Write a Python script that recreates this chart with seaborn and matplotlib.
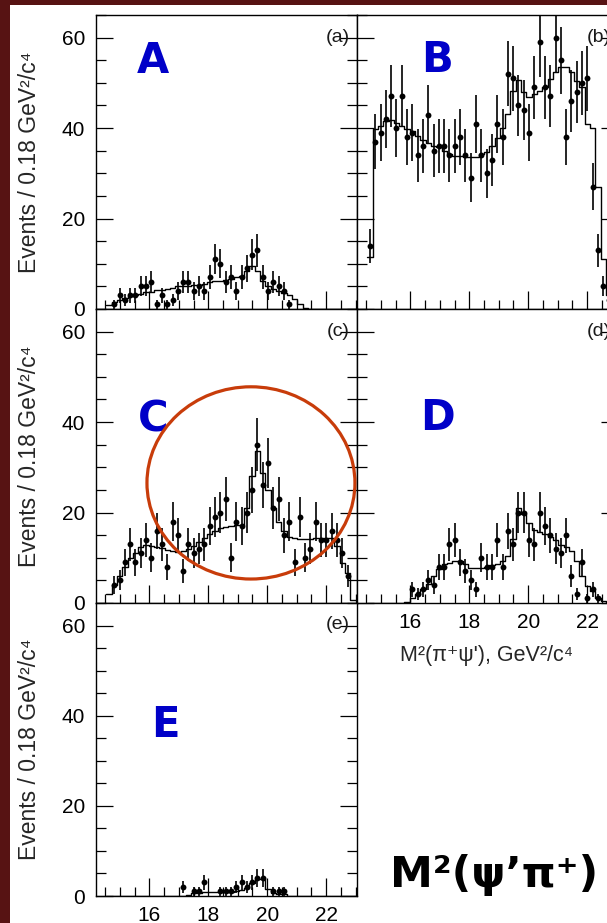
"""Recreate the five-panel M^2(pi+ psi') projection figure."""

import numpy as np
import pandas as pd
import matplotlib
matplotlib.use('Agg')
import matplotlib.pyplot as plt
from matplotlib.patches import Ellipse, Rectangle
from matplotlib.ticker import MultipleLocator, FixedLocator
import seaborn as sns

nan = np.nan

# binning: 0.18 GeV^2/c^4 bins, 47 of them
BIN_WIDTH = 0.18
FIRST_EDGE = 14.54
N_BINS = 47

# counts per bin (nan = no point drawn)
A_COUNTS = [nan, 1, 3, 2, 3, 3, 5, 5, 6, 1, 3, 1, 2, 4, 6, 6, 4, 5, 4, 7,
            11, 10, 6, 7, 4, 7, 9, 12, 13, 7, 4, 6, 5, 4, 1, nan, nan, nan, nan, nan,
            nan, nan, nan, nan, nan, nan, nan]
A_FIT = [0.9, 1.5, 2.0, 2.4, 2.8, 3.1, 3.4, 3.7, 3.8, 4.1, 4.3, 4.5, 4.7, 5.0, 5.0, 5.1,
         5.2, 5.3, 5.5, 5.9, 6.1, 6.3, 6.5, 6.7, 7.0, 7.3, 8.5, 9.5, 8.5, 6.2, 5.0, 4.4,
         4.0, 3.5, 3.1, 2.3, 1.2, 0.2, 0, 0, 0, 0, 0, 0, 0, 0, 0]

B_COUNTS = [14, 37, 39, 42, 47, 40, 47, 38, 39, 34, 36, 43, 35, 36, 36, 34, 36, 38, 34, 29,
            41, 34, 30, 33, 41, 38, 52, 51, 45, 44, 39, 49, 59, 49, 47, 60, 55, 38, 46, 48,
            50, 51, 27, 13, 5, 2, nan]
B_FIT = [11.4, 39.9, 40.5, 41.6, 41.8, 41.2, 40.5, 39.8, 39.3, 38.3, 37.3, 36.6, 36.1, 35.9,
         35.0, 34.3, 33.9, 33.9, 33.7, 33.7, 33.7, 34.3, 34.8, 36.1, 37.8, 40.1, 43.1, 48.3,
         50.6, 47.9, 46.8, 47.5, 48.3, 49.1, 50.9, 52.3, 53.4, 53.6, 52.3, 50.5, 49.0, 41.0,
         40.0, 27.0, 11.0, 3.0, 1.0]

C_COUNTS = [nan, 4, 5, 9, 13, 9, 11, 14, 10, 16, 13, 8, 18, 15, 7, 13, 11, 12, 13, 17,
            19, 20, 23, 10, 18, 17, 20, 25, 35, 26, 31, 21, 23, 15, 18, 9, 19, 10, 12, 18,
            14, 14, 16, 14, 11, 6, nan]
C_FIT = [2.0, 4.0, 6.0, 8.0, 9.9, 11.1, 12.3, 12.9, 12.6, 12.4, 12.1, 11.8, 11.5, 11.3,
         11.5, 11.9, 12.5, 13.4, 14.3, 15.2, 16.0, 16.5, 16.8, 17.0, 17.2, 17.3, 20.9, 28.0,
         33.5, 28.8, 25.0, 21.0, 18.0, 16.0, 14.7, 14.3, 14.1, 14.1, 14.2, 14.3, 14.3, 14.4,
         14.4, 12.5, 8.8, 6.6, 0.6]

D_COUNTS = [nan, nan, nan, nan, nan, nan, nan, nan, 3, 2, 3, 5, 4, 8, 8, 13, 14, 9, 7, 5,
            3, 10, 8, 8, 14, 8, 16, 13, 20, 20, 14, 13, 20, 17, 15, 12, 11, 15, 6, 2,
            9, 1, 3, 1, nan, nan, nan]
D_FIT = [0, 0, 0, 0, 0, 0, 0, 0.2, 1.0, 1.9, 3.0, 4.3, 6.0, 7.5, 8.6, 8.9, 9.3, 9.3, 8.7,
         7.7, 7.7, 7.7, 8.0, 8.4, 8.7, 9.3, 10.5, 14.1, 21.0, 19.6, 17.6, 16.1, 15.8, 15.2,
         14.6, 13.9, 12.8, 12.3, 11.5, 9.3, 6.0, 3.8, 2.7, 1.2, 0.4, 0, 0]

E_COUNTS = [nan, nan, nan, nan, nan, nan, nan, nan, nan, nan, nan, nan, nan, nan, 2, nan,
            1, 1, 3, nan, nan, 1, 1, 1, 2, 3, 2, 3, 4, 4, nan, 1, 1, 1, nan, nan,
            nan, nan, nan, nan, nan, nan, nan, nan, nan, nan, nan]
E_FIT = [0, 0, 0, 0, 0, 0, 0, 0, 0, 0, 0, 0, 0, 0, 0, 0.2, 0.6, 0.7, 0.8, 0.8, 0.8, 0.8,
         0.8, 0.9, 1.1, 1.3, 1.7, 2.8, 3.7, 3.7, 1.5, 0.6, 0.5, 0.5, 0, 0, 0, 0, 0, 0, 0,
         0, 0, 0, 0, 0, 0]

PANEL_TAGS = ['(a)', '(b)', '(c)', '(d)', '(e)']
PANEL_NAMES = ['A', 'B', 'C', 'D', 'E']
X_TICKS = [16, 18, 20, 22]
Y_TICKS = [0, 20, 40, 60]

Y_LABEL = 'Events / 0.18 GeV²/c⁴'
X_LABEL = "M²(π⁺ψ'), GeV²/c⁴"
TITLE = 'M²(ψ’π⁺)'

W, H = 607, 923
BLUE = '#0000c8'
RING = '#c83c0a'
SLIDE = '#571313'


def px_axes(fig, left, top, right, bottom):
    """Add axes given pixel box (origin top-left)."""
    return fig.add_axes([left / W, 1 - bottom / H, (right - left) / W, (bottom - top) / H])


def draw_panel(ax, counts, fit, edges, centers):
    """Draw fit histogram and data points."""
    counts = np.array(counts, dtype=float)
    frame = pd.DataFrame({'m2': centers, 'fit': fit})
    sns.histplot(data=frame, x='m2', weights='fit', bins=list(edges), element='step',
                 fill=False, color='black', linewidth=1.0, ax=ax)
    ok = ~np.isnan(counts)
    ax.errorbar(centers[ok], counts[ok], yerr=np.sqrt(counts[ok]), fmt='none',
                ecolor='black', elinewidth=1.2, capsize=0, zorder=3)
    sns.scatterplot(x=centers[ok], y=counts[ok], color='black', s=18, linewidth=0,
                    ax=ax, zorder=4)
    ax.set_xlim(14.19, 23.05)
    ax.set_ylim(0, 65)
    ax.set_xlabel('')
    ax.set_ylabel('')
    ax.xaxis.set_major_locator(FixedLocator(X_TICKS))
    ax.xaxis.set_minor_locator(MultipleLocator(0.5))
    ax.yaxis.set_major_locator(FixedLocator(Y_TICKS))
    ax.yaxis.set_minor_locator(MultipleLocator(5))
    ax.tick_params(which='both', direction='in', top=False, right=True, width=0.9,
                   labelsize=15, colors='black')
    ax.tick_params(axis='x', which='major', length=13, pad=7)
    ax.tick_params(axis='x', which='minor', length=6.5)
    ax.tick_params(axis='y', which='major', length=12, pad=8)
    ax.tick_params(axis='y', which='minor', length=7)
    for spine in ax.spines.values():
        spine.set_visible(True)
        spine.set_linewidth(1.0)
        spine.set_color('black')


sns.set_style('ticks')
plt.rcParams['font.family'] = ['Liberation Sans', 'DejaVu Sans']

edges = FIRST_EDGE + BIN_WIDTH * np.arange(N_BINS + 1)
centers = edges[:-1] + BIN_WIDTH / 2

fig = plt.figure(figsize=(W / 100, H / 100), dpi=100, facecolor=SLIDE)
fig.add_artist(Rectangle((10 / W, 0), 1, (H - 5) / H, transform=fig.transFigure,
                         facecolor='white', edgecolor='none', zorder=-10))

boxes = [(96, 15, 357, 309), (357, 15, 618, 309), (96, 309, 357, 603),
         (357, 309, 618, 603), (96, 603, 357, 896)]
data = [(A_COUNTS, A_FIT), (B_COUNTS, B_FIT), (C_COUNTS, C_FIT),
        (D_COUNTS, D_FIT), (E_COUNTS, E_FIT)]
name_pos = [(0.218, 0.803), (0.307, 0.806), (0.218, 0.582), (0.307, 0.588), (0.264, 0.541)]

axes = []
for i, (box, (counts, fit)) in enumerate(zip(boxes, data)):
    ax = px_axes(fig, *box)
    draw_panel(ax, counts, fit, edges, centers)
    left_col = i in (0, 2, 4)
    ax.tick_params(labelleft=left_col, labelbottom=i in (3, 4))
    ax.text(0.927, 0.925, PANEL_TAGS[i], transform=ax.transAxes, ha='center',
            va='center', fontsize=14, color='#1a1a1a')
    ax.text(name_pos[i][0], name_pos[i][1], PANEL_NAMES[i], transform=ax.transAxes,
            ha='center', va='baseline', fontsize=30, fontweight='bold',
            family='DejaVu Sans', color=BLUE, zorder=5)
    if left_col:
        cy = (box[1] + box[3]) / 2
        fig.text(30 / W, 1 - cy / H, Y_LABEL, rotation=90, ha='center', va='center',
                 fontsize=16.5)
    axes.append(ax)

# red ring around the peak in panel C
axes[2].add_patch(Ellipse((19.45, 26.55), 7.06, 42.5, fill=False, edgecolor=RING,
                          linewidth=2.3, zorder=6, clip_on=False))

fig.text(486 / W, 1 - 656 / H, X_LABEL, ha='center', va='center', fontsize=15.5)
fig.text(494 / W, 1 - 887 / H, TITLE, ha='center', va='baseline', fontsize=31,
         fontweight='bold', family='DejaVu Sans', color='black')

fig.savefig('out.png', dpi=100, facecolor=fig.get_facecolor())
